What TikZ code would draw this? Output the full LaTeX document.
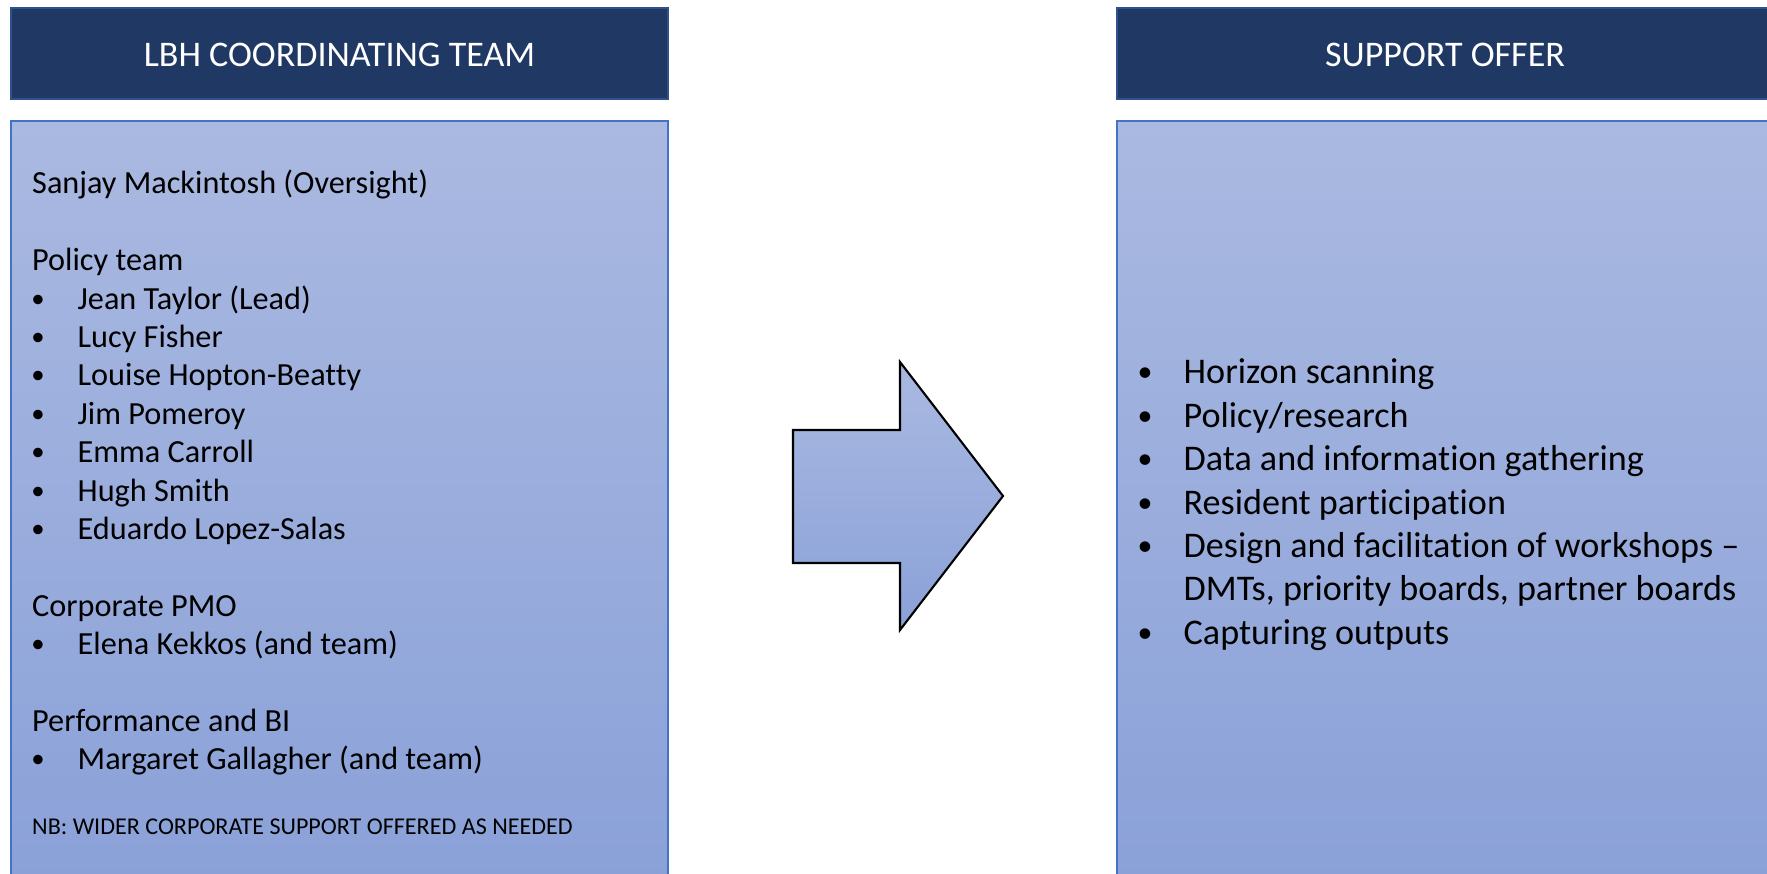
\documentclass[tikz,border=0pt]{standalone}
\usepackage{fontspec}
\setmainfont{Carlito}[Ligatures={NoCommon}]

\definecolor{navy}{HTML}{203864}
\definecolor{navyedge}{HTML}{2F528F}
\definecolor{paneledge}{HTML}{4472C4}
\definecolor{paneltop}{HTML}{AAB9E1}
\definecolor{panelbot}{HTML}{8AA1D8}

\tikzset{
  header/.style={draw=navyedge, fill=navy, line width=0.8pt},
  panel/.style={draw=paneledge, line width=0.6pt, top color=paneltop, bottom color=panelbot},
  headtext/.style={text=white, font=\fontsize{10.25}{12}\selectfont},
  lefttext/.style={anchor=base west, inner sep=0pt, font=\fontsize{9.17}{11}\selectfont},
  leftdot/.style={anchor=base, inner sep=0pt, font=\fontsize{7.6}{9}\selectfont},
  righttext/.style={anchor=base west, inner sep=0pt, font=\fontsize{10.27}{12}\selectfont},
  rightdot/.style={anchor=base, inner sep=0pt, font=\fontsize{8.5}{10}\selectfont},
  nbtext/.style={anchor=base west, inner sep=0pt, font=\fontsize{6.85}{8}\selectfont}
}

\begin{document}
\begin{tikzpicture}[x=0.01cm, y=-0.01cm]
\useasboundingbox (0,0) rectangle (1767,874);

% headers
\draw[header] (11,8) rectangle (668,99);
\node[headtext] (teamhead) at (339.5,55) {LBH COORDINATING TEAM};
\draw[header] (1117,8) rectangle (1775,99);
\node[headtext] (offerhead) at (1445,55) {SUPPORT OFFER};

% panels
\draw[panel] (11,121) rectangle (668,880);
\draw[panel] (1117,121) rectangle (1775,880);

% arrow
\draw[line width=0.6pt, top color=paneltop, bottom color=panelbot]
  (793,430) -- (900,430) -- (900,362) -- (1003,496) -- (900,630) -- (900,563) -- (793,563) -- cycle;

% left panel
\node[lefttext] (lead) at (31.5,194) {Sanjay Mackintosh (Oversight)};
\node[lefttext] (policy) at (31.5,{194+38.4*2}) {Policy team};
\foreach \k/\name in {3/Jean Taylor (Lead), 4/Lucy Fisher, 5/Louise Hopton-Beatty,
    6/Jim Pomeroy, 7/Emma Carroll, 8/Hugh Smith, 9/Eduardo Lopez-Salas,
    12/Elena Kekkos (and team), 15/Margaret Gallagher (and team)} {
  \node[leftdot] (dot\k) at (38,{192+38.4*\k}) {•};
  \node[lefttext] (name\k) at (77,{194+38.4*\k}) {\name};
}
\node[lefttext] (pmo) at (31.5,{194+38.4*11}) {Corporate PMO};
\node[lefttext] (perf) at (31.5,{194+38.4*14}) {Performance and BI};
\node[nbtext] (nb) at (31.5,835) {NB: WIDER CORPORATE SUPPORT OFFERED AS NEEDED};

% right panel
\foreach \k/\item in {0/Horizon scanning, 1/Policy\slash research,
    2/Data and information gathering, 3/Resident participation,
    4/Design and facilitation of workshops --, 6/Capturing outputs} {
  \node[rightdot] (bul\k) at (1145,{382+43.4*\k}) {•};
  \node[righttext] (item\k) at (1183,{384+43.4*\k}) {\item};
}
\node[righttext] (item5) at (1183,{384+43.4*5}) {DMTs, priority boards, partner boards};

\end{tikzpicture}
\end{document}
